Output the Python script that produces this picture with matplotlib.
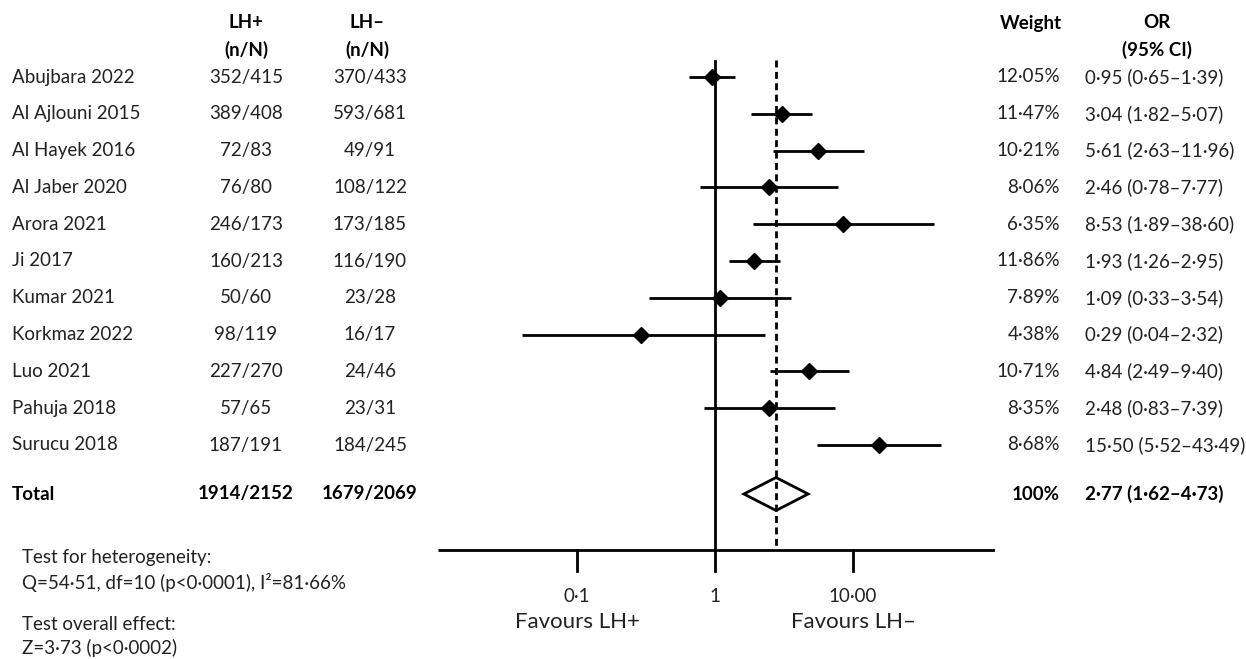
import numpy as np
import matplotlib
matplotlib.use("Agg")
import matplotlib.pyplot as plt

plt.rcParams['font.family'] = ['Lato', 'DejaVu Sans']

studies = ["Abujbara 2022", "Al Ajlouni 2015", "Al Hayek 2016", "Al Jaber 2020",
           "Arora 2021", "Ji 2017", "Kumar 2021", "Korkmaz 2022", "Luo 2021",
           "Pahuja 2018", "Surucu 2018"]
lh_pos = ["352/415", "389/408", "72/83", "76/80", "246/173", "160/213",
          "50/60", "98/119", "227/270", "57/65", "187/191"]
lh_neg = ["370/433", "593/681", "49/91", "108/122", "173/185", "116/190",
          "23/28", "16/17", "24/46", "23/31", "184/245"]
weights = ["12·05%", "11·47%", "10·21%", "8·06%", "6·35%", "11·86%",
           "7·89%", "4·38%", "10·71%", "8·35%", "8·68%"]
odds = [0.95, 3.04, 5.61, 2.46, 8.53, 1.93, 1.09, 0.29, 4.84, 2.48, 15.50]
ci_low = [0.65, 1.82, 2.63, 0.78, 1.89, 1.26, 0.33, 0.04, 2.49, 0.83, 5.52]
ci_high = [1.39, 5.07, 11.96, 7.77, 38.60, 2.95, 3.54, 2.32, 9.40, 7.39, 43.49]

total_pos = "1914/2152"
total_neg = "1679/2069"
total_or, total_low, total_high = 2.77, 1.62, 4.73

ticks = [0.1, 1, 10]
tick_labels = ["0·1", "1", "10·00"]


def fmt(v):
    return f"{v:.2f}".replace(".", "·")


W, H = 1246, 659
fig = plt.figure(figsize=(W / 100, H / 100), dpi=100)

# text layer in pixel coordinates
tx = fig.add_axes([0, 0, 1, 1])
tx.set_xlim(0, W)
tx.set_ylim(H, 0)
tx.axis("off")

# plot layer: log x, same pixel y
x0, x1 = 438, 995
ax = fig.add_axes([x0 / W, 0, (x1 - x0) / W, 1])
ax.set_xscale("log")
ax.set_xlim(10 ** -2.007, 10 ** 2.029)
ax.set_ylim(H, 0)
ax.axis("off")

y_first, dy = 77, 36.8
rows = y_first + dy * np.arange(len(studies))
y_total = 494
y_axis = 550
fs = 13.5

# headers
hdr = dict(fontsize=fs, fontweight="bold", va="center")
tx.text(246, 23, "LH+", ha="center", **hdr)
tx.text(246, 50, "(n/N)", ha="center", **hdr)
tx.text(367, 23, "LH–", ha="center", **hdr)
tx.text(367, 50, "(n/N)", ha="center", **hdr)
tx.text(1062, 23, "Weight", ha="right", **hdr)
tx.text(1157, 23, "OR", ha="center", **hdr)
tx.text(1157, 50, "(95% CI)", ha="center", **hdr)

col = "#222222"
for i, y in enumerate(rows):
    tx.text(12, y, studies[i], ha="left", va="center", fontsize=fs, color=col)
    tx.text(246, y, lh_pos[i], ha="center", va="center", fontsize=fs, color=col)
    tx.text(370, y, lh_neg[i], ha="center", va="center", fontsize=fs, color=col)
    tx.text(1060, y, weights[i], ha="right", va="center", fontsize=fs, color=col)
    tx.text(1085, y, f"{fmt(odds[i])} ({fmt(ci_low[i])}–{fmt(ci_high[i])})",
            ha="left", va="center", fontsize=fs, color=col)
    ax.plot([ci_low[i], ci_high[i]], [y, y], color="black", lw=2, solid_capstyle="butt")
    ax.plot(odds[i], y, marker="D", ms=8, color="black")

# total row
tb = dict(fontsize=fs, fontweight="bold", va="center")
tx.text(12, y_total, "Total", ha="left", **tb)
tx.text(246, y_total, total_pos, ha="center", **tb)
tx.text(370, y_total, total_neg, ha="center", **tb)
tx.text(1060, y_total, "100%", ha="right", **tb)
tx.text(1085, y_total, f"{fmt(total_or)} ({fmt(total_low)}–{fmt(total_high)})",
        ha="left", **tb)

half = 16.5
ax.fill([total_low, total_or, total_high, total_or, total_low],
        [y_total, y_total - half, y_total, y_total + half, y_total],
        facecolor="white", edgecolor="black", lw=2, zorder=3)

# reference lines
ax.plot([1, 1], [61, y_axis], color="black", lw=2, zorder=2)
ax.plot([total_or, total_or], [60, y_axis], color="black", lw=2,
        linestyle=(0, (2.5, 1.6)), zorder=4)

# axis
ax.plot(ax.get_xlim(), [y_axis, y_axis], color="black", lw=2, solid_capstyle="butt")
for t, lab in zip(ticks, tick_labels):
    ax.plot([t, t], [y_axis, 571], color="black", lw=2)
    ax.text(t, 597, lab, ha="center", va="center", fontsize=fs, color=col)
ax.text(0.1, 622, "Favours LH+", ha="center", va="center", fontsize=16, color=col)
ax.text(10, 622, "Favours LH–", ha="center", va="center", fontsize=16, color=col)

# bottom notes
tx.text(22, 558, "Test for heterogeneity:", ha="left", va="center", fontsize=fs, color=col)
tx.text(22, 582, "Q=54·51, df=10 (p<0·0001), I²=81·66%", ha="left", va="center",
        fontsize=fs, color=col)
tx.text(22, 625, "Test overall effect:", ha="left", va="center", fontsize=fs, color=col)
tx.text(22, 648, "Z=3·73 (p<0·0002)", ha="left", va="center", fontsize=fs, color=col)

fig.savefig("out.png", dpi=100)
